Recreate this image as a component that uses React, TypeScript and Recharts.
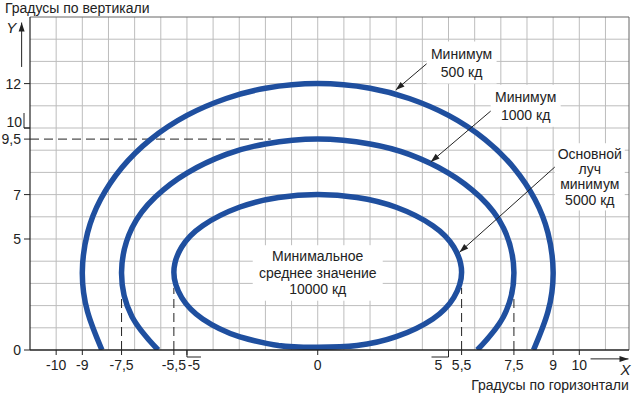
import React from "react";
import {
  LineChart,
  Line,
  XAxis,
  YAxis,
  CartesianGrid,
  ReferenceLine,
  ReferenceDot,
} from "recharts";

// minimum 500 cd (outer contour, open at the bottom)
const outerX = [-8.25, -8.8, -9, -8.8, -8.3, -7.5, -6.4, -5, -3.5, -2, 0, 2, 3.5, 5, 6.4, 7.5, 8.3, 8.8, 9, 8.8, 8.25];
const outerY = [0, 1.72, 3.5, 5.28, 6.79, 8.2, 9.48, 10.57, 11.33, 11.79, 12, 11.79, 11.33, 10.57, 9.48, 8.2, 6.79, 5.28, 3.5, 1.72, 0];

// minimum 1000 cd
const middleX = [-6.1, -7.1, -7.5, -7.1, -6.2, -5, -3.5, -2, 0, 2, 3.5, 5, 6.2, 7.1, 7.5, 7.1, 6.1];
const middleY = [0, 1.5, 3.5, 5.5, 6.9, 7.97, 8.81, 9.28, 9.5, 9.28, 8.81, 7.97, 6.9, 5.5, 3.5, 1.5, 0];

// main beam, minimum 5000 cd (closed loop, starts and ends past the bottom so the seam is hidden)
const innerX = [-1.5, -3, -4.4, -5.2, -5.5, -5.2, -4.4, -3, -1.5, 0, 1.5, 3, 4.4, 5.2, 5.5, 5.2, 4.4, 3, 1.5, 0, -1.5, -3];
const innerY = [0.2, 0.6, 1.4, 2.36, 3.5, 4.64, 5.6, 6.43, 6.87, 7, 6.87, 6.43, 5.6, 4.64, 3.5, 2.36, 1.4, 0.6, 0.2, 0.12, 0.2, 0.6];

const xTicks = [-10, -9, -7.5, -5.5, -5, 0, 5, 5.5, 7.5, 9, 10];
const yTicks = [0, 5, 7, 9.5, 10, 12];
const gridX = [-10, -9, -8, -7, -6, -5, -4, -3, -2, -1, 0, 1, 2, 3, 4, 5, 6, 7, 8, 9, 10, 11];
const gridY = [1, 2, 3, 4, 5, 6, 7, 8, 9, 10, 11, 12, 13, 14];

// dashed guides: horizontal at 9,5 and verticals (x, top)
const guideY = 9.5;
const guideYEnd = -1.8;
const guideX = [-7.5, -5.5, 5.5, 7.5];
const guideXTop = [2.4, 2.8, 2.8, 2.4];

const XMIN = -11;
const XMAX = 11.9;
const YMAX = 15;

const BLUE = "#1f4f9f";
const INK = "#222";
const FONT = "'Liberation Sans', Arial, sans-serif";
const FS = 14;

const pts = (xs: number[], ys: number[]) => xs.map((x, i) => ({ x, y: ys[i] }));

const notes = [
  { lines: ["Минимум", "500 кд"], x: 5.5, y: 12.95, w: 70, lh: 18 },
  { lines: ["Минимум", "1000 кд"], x: 7.95, y: 11.0, w: 70, lh: 18 },
  { lines: ["Основной", "луч", "минимум", "5000 кд"], x: 10.4, y: 7.8, w: 70, lh: 15.3 },
  { lines: ["Минимальное", "среднее значение", "10000 кд"], x: 0, y: 3.47, w: 130, lh: 16.5 },
];

const leaders = [
  { shelf: [4.24, 6.65], y: 12.97, tip: [2.98, 11.71] },
  { shelf: [6.84, 9.2], y: 10.99, tip: [4.32, 8.47] },
  { shelf: [9.28, 11.6], y: 8.47, tip: [5.42, 4.4] },
];

function arrowShape(p: any) {
  const { x1, y1, x2, y2 } = p;
  const a = Math.atan2(y2 - y1, x2 - x1);
  const len = 9;
  const half = 3;
  const bx = x2 - len * Math.cos(a);
  const by = y2 - len * Math.sin(a);
  const pa = `${x2},${y2} ${bx - half * Math.sin(a)},${by + half * Math.cos(a)} ${bx + half * Math.sin(a)},${by - half * Math.cos(a)}`;
  return (
    <g>
      <line x1={x1} y1={y1} x2={x2} y2={y2} stroke={INK} strokeWidth={1} />
      <polygon points={pa} fill={INK} />
    </g>
  );
}

function noteShape(lines: string[], w: number, lh: number) {
  return (p: any) => {
    const { cx, cy } = p;
    const h = lines.length * lh + 6;
    const top = cy - (lines.length * lh) / 2;
    return (
      <g>
        <rect x={cx - w / 2} y={cy - h / 2} width={w} height={h} fill="#fff" />
        {lines.map((t, i) => (
          <text
            key={i}
            x={cx}
            y={top + lh * i + lh / 2 + 5}
            textAnchor="middle"
            fontSize={FS}
            fontFamily={FONT}
            fill={INK}
          >
            {t}
          </text>
        ))}
      </g>
    );
  };
}

function caption(text: string, anchor: "start" | "end" | "middle", italic = false) {
  return (p: any) => (
    <text
      x={p.cx}
      y={p.cy + 5}
      textAnchor={anchor}
      fontSize={italic ? 15 : FS}
      fontStyle={italic ? "italic" : "normal"}
      fontFamily={FONT}
      fill={INK}
    >
      {text}
    </text>
  );
}

const fmt = (v: number) => String(v).replace(".", ",");

function XTick(p: any) {
  const { x, y, payload } = p;
  const v = payload.value;
  let tx = x;
  let hook = null;
  if (v === -5) {
    tx = x + 7;
    hook = <path d={`M${x},${y - 7} V${y} H${x + 14}`} stroke={INK} fill="none" />;
  } else if (v === 5) {
    tx = x - 10;
    hook = <path d={`M${x},${y - 7} V${y} H${x - 17}`} stroke={INK} fill="none" />;
  }
  return (
    <g>
      {hook}
      <text x={tx} y={y + 13} textAnchor="middle" fontSize={FS} fontFamily={FONT} fill={INK}>
        {fmt(v)}
      </text>
    </g>
  );
}

function YTick(p: any) {
  const { x, y, payload } = p;
  const v = payload.value;
  if (v === 10) {
    return (
      <g>
        <path d={`M${x + 3},${y - 15} V${y} H${x + 9}`} stroke={INK} fill="none" />
        <text x={x + 1} y={y - 1} textAnchor="end" fontSize={FS} fontFamily={FONT} fill={INK}>
          {fmt(v)}
        </text>
      </g>
    );
  }
  return (
    <text x={x} y={y + 5} textAnchor="end" fontSize={FS} fontFamily={FONT} fill={INK}>
      {fmt(v)}
    </text>
  );
}

export default function App() {
  return (
    <div style={{ position: "absolute", left: 0, top: 0, background: "#fff" }}>
      <LineChart width={634} height={393} margin={{ top: 17, right: 5, bottom: 0, left: 0 }}>
        <CartesianGrid
          stroke="#bdbdbd"
          strokeWidth={1}
          horizontalValues={gridY}
          verticalValues={gridX}
        />
        <XAxis
          type="number"
          dataKey="x"
          domain={[XMIN, XMAX]}
          ticks={xTicks}
          allowDataOverflow
          height={43}
          tickSize={5}
          tickMargin={2}
          tick={<XTick />}
          axisLine={{ stroke: INK, strokeWidth: 1.5 }}
          tickLine={{ stroke: INK }}
          interval={0}
        />
        <YAxis
          type="number"
          dataKey="y"
          domain={[0, YMAX]}
          ticks={yTicks}
          allowDataOverflow
          width={30}
          tickSize={6}
          tickMargin={3}
          tick={<YTick />}
          axisLine={{ stroke: INK, strokeWidth: 1.2 }}
          tickLine={{ stroke: INK }}
          interval={0}
        />
        <ReferenceLine y={YMAX} stroke="#666" />
        <ReferenceLine x={XMAX} stroke="#666" />

        <ReferenceLine
          segment={[{ x: XMIN, y: guideY }, { x: guideYEnd, y: guideY }]}
          stroke={INK}
          strokeDasharray="9 5"
        />
        {guideX.map((gx, i) => (
          <ReferenceLine
            key={gx}
            segment={[{ x: gx, y: 0 }, { x: gx, y: guideXTop[i] }]}
            stroke={INK}
            strokeDasharray="9 5"
          />
        ))}

        {notes.map((n, i) => (
          <ReferenceDot
            key={i}
            x={n.x}
            y={n.y}
            r={0}
            ifOverflow="visible"
            shape={noteShape(n.lines, n.w, n.lh)}
          />
        ))}

        <Line data={pts(outerX, outerY)} dataKey="y" type="natural" stroke={BLUE} strokeWidth={5.5} dot={false} isAnimationActive={false} />
        <Line data={pts(middleX, middleY)} dataKey="y" type="natural" stroke={BLUE} strokeWidth={5.5} dot={false} isAnimationActive={false} />
        <Line data={pts(innerX, innerY)} dataKey="y" type="natural" stroke={BLUE} strokeWidth={5.5} dot={false} isAnimationActive={false} />

        {leaders.map((l, i) => (
          <ReferenceLine
            key={"s" + i}
            segment={[{ x: l.shelf[0], y: l.y }, { x: l.shelf[1], y: l.y }]}
            stroke={INK}
            ifOverflow="visible"
          />
        ))}
        {leaders.map((l, i) => (
          <ReferenceLine
            key={"a" + i}
            segment={[{ x: l.shelf[0], y: l.y }, { x: l.tip[0], y: l.tip[1] }]}
            ifOverflow="visible"
            shape={arrowShape}
          />
        ))}

        {/* axis arrows and titles */}
        <ReferenceLine segment={[{ x: -11.32, y: 12.75 }, { x: -11.32, y: 14.75 }]} ifOverflow="visible" shape={arrowShape} />
        <ReferenceLine segment={[{ x: 10.43, y: -0.4 }, { x: 11.88, y: -0.4 }]} ifOverflow="visible" shape={arrowShape} />
        <ReferenceDot x={-11.96} y={15.4} r={0} ifOverflow="visible" shape={caption("Градусы по вертикали", "start")} />
        <ReferenceDot x={-11.72} y={14.5} r={0} ifOverflow="visible" shape={caption("Y", "middle", true)} />
        <ReferenceDot x={11.77} y={-0.92} r={0} ifOverflow="visible" shape={caption("X", "middle", true)} />
        <ReferenceDot x={11.89} y={-1.58} r={0} ifOverflow="visible" shape={caption("Градусы по горизонтали", "end")} />
      </LineChart>
    </div>
  );
}
